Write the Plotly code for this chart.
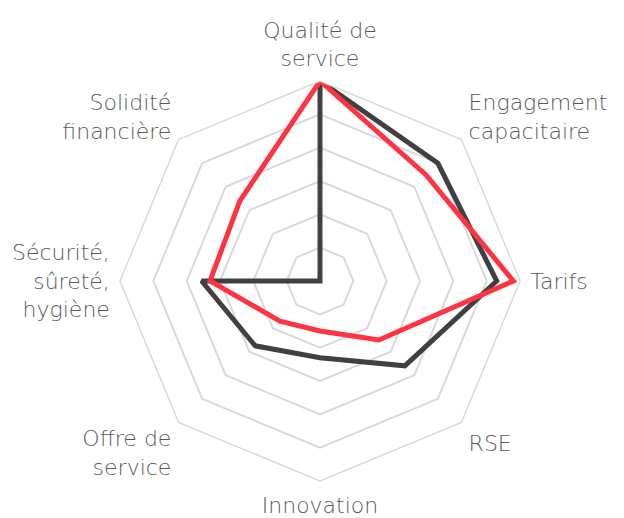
import plotly.graph_objects as go

categories = ["Qualité de<br>service", "Engagement<br>capacitaire", "Tarifs", "RSE",
              "Innovation", "Offre de<br>service", "Sécurité,<br>sûreté,<br>hygiène",
              "Solidité<br>financière"]
serie_grise = [6, 5.0, 5.3, 3.6, 2.3, 2.75, 3.55, 0]
serie_rouge = [6, 4.5, 5.8, 2.5, 1.5, 1.7, 3.3, 3.4]

COLOR_GRID = "#d9d9d9"
COLOR_TEXT = "#595959"

fig = go.Figure()
for vals, col in [(serie_grise, "#404040"), (serie_rouge, "#ff3341")]:
    fig.add_trace(go.Scatterpolar(
        r=vals + vals[:1], theta=categories + categories[:1],
        mode="lines", line=dict(color=col, width=5),
        hoverinfo="skip"))

# page body has an 8px margin, so the domain is shifted to compensate
fig.update_layout(
    width=624, height=518,
    margin=dict(l=0, r=0, t=0, b=0),
    paper_bgcolor="white",
    showlegend=False,
    font=dict(family="DejaVu Sans, sans-serif", size=22, color=COLOR_TEXT),
    polar=dict(
        domain=dict(x=[112 / 624, 512 / 624], y=[45 / 518, 445 / 518]),
        bgcolor="white",
        gridshape="linear",
        radialaxis=dict(range=[0, 6], dtick=1, showticklabels=False,
                        ticks="", showline=False, gridcolor=COLOR_GRID,
                        gridwidth=1.5),
        angularaxis=dict(direction="clockwise", rotation=90,
                         showgrid=False, showline=True,
                         linecolor=COLOR_GRID, linewidth=1.5,
                         ticks="outside", ticklen=5,
                         tickcolor="rgba(0,0,0,0)",
                         tickfont=dict(size=22, color=COLOR_TEXT,
                                       weight=300)),
    ),
)

fig.write_html("out.html")
